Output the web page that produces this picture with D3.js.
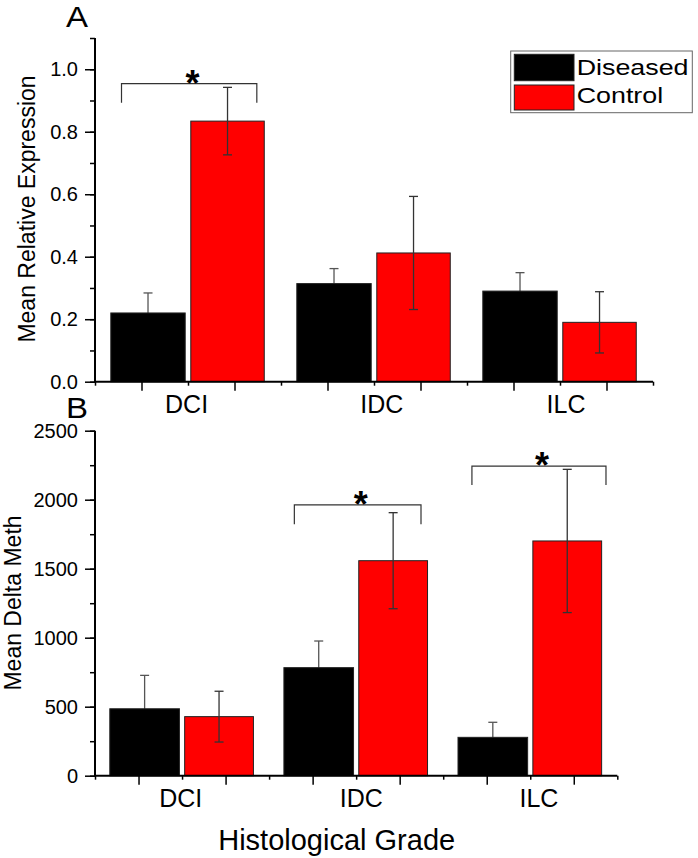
<!DOCTYPE html>
<html>
<head>
<meta charset="utf-8">
<script src="https://cdn.jsdelivr.net/npm/d3@7"></script>
<style>
  html, body { margin: 0; padding: 0; background: #fff; }
  text { font-family: "Liberation Sans", Arial, sans-serif; fill: #000; }
</style>
</head>
<body>
<div id="chart"></div>
<script>
// Datos del gráfico
const categories = ['DCI', 'IDC', 'ILC'];
const series = ['Diseased', 'Control'];
const colors = ['#000000', '#ff0000'];

// Panel A: expresión relativa media
const exprDiseased = [0.220, 0.314, 0.290];
const exprDiseasedErr = [0.064, 0.048, 0.059];
const exprControl = [0.834, 0.412, 0.190];
const exprControlErr = [0.108, 0.181, 0.098];
const exprTicks = [0.0, 0.2, 0.4, 0.6, 0.8, 1.0];

// Panel B: delta de metilación media
const methDiseased = [485, 783, 278];
const methDiseasedErr = [242, 193, 109];
const methControl = [428, 1558, 1701];
const methControlErr = [184, 348, 519];
const methTicks = [0, 500, 1000, 1500, 2000, 2500];

// Corchetes de significancia: [grupo, desde, hasta, altura, patas]
const exprBrackets = [[0, -1.43, 1.48, 0.954, 0.893]];
const methBrackets = [[1, -1.42, 1.49, 1962, 1822], [2, -1.34, 1.74, 2244, 2106]];

const W = 698, H = 858;
const svg = d3.select('#chart').append('svg')
    .attr('width', W)
    .attr('height', H);

// posiciones de grupo en unidades del eje x (0..12)
const groupPos = [2, 6, 10];

function drawErrors(g, data, x, y) {
    const err = g.selectAll(null)
        .data(data)
        .enter().append('g')
        .style('stroke', d => d.s === 0 ? '#555' : '#333')
        .style('stroke-width', 1.3);
    err.append('line')
        .attr('x1', d => x((d.x0 + d.x1) / 2))
        .attr('x2', d => x((d.x0 + d.x1) / 2))
        .attr('y1', d => y(d.v - d.e))
        .attr('y2', d => y(d.v + d.e));
    err.each(function(d) {
        const cx = x((d.x0 + d.x1) / 2);
        [d.v - d.e, d.v + d.e].forEach(v => {
            d3.select(this).append('line')
                .attr('x1', cx - 4.5).attr('x2', cx + 4.5)
                .attr('y1', y(v)).attr('y2', y(v));
        });
    });
}

function drawPanel(opts) {
    const x = d3.scaleLinear().domain([0, 12]).range([95, opts.xEnd]);
    const y = d3.scaleLinear().domain(opts.yDomain).range([opts.y0, opts.yTop]);
    const g = svg.append('g');

    // Barras
    const bars = [];
    categories.forEach((c, i) => {
        bars.push({ s: 0, c: i, v: opts.dis[i], e: opts.disErr[i], x0: groupPos[i] - 1.66, x1: groupPos[i] - 0.06 });
        bars.push({ s: 1, c: i, v: opts.con[i], e: opts.conErr[i], x0: groupPos[i] + 0.06, x1: groupPos[i] + 1.64 });
    });

    // errores de la serie negra quedan detrás de la barra
    drawErrors(g, bars.filter(d => d.s === 0), x, y);

    g.selectAll('.bar')
        .data(bars)
        .enter().append('rect')
        .attr('class', 'bar')
        .attr('x', d => x(d.x0))
        .attr('width', d => x(d.x1) - x(d.x0))
        .attr('y', d => y(d.v))
        .attr('height', d => y(0) - y(d.v))
        .style('fill', d => colors[d.s])
        .style('stroke', '#222')
        .style('stroke-width', 1);

    drawErrors(g, bars.filter(d => d.s === 1), x, y);

    // Ejes Y: mayores y menores
    const yMinor = d3.range(opts.yDomain[0], opts.yDomain[1] + opts.minorStep / 2, opts.minorStep);
    g.append('g')
        .attr('transform', 'translate(95,0)')
        .call(d3.axisLeft(y).tickValues(yMinor).tickSize(5).tickFormat(''))
        .call(a => a.select('.domain').remove())
        .selectAll('line').style('stroke-width', 1.5);
    const yAx = g.append('g')
        .attr('transform', 'translate(95,0)')
        .call(d3.axisLeft(y).tickValues(opts.ticks).tickSize(10).tickPadding(7).tickFormat(opts.fmt));
    yAx.select('.domain').remove();
    yAx.selectAll('line').style('stroke-width', 1.5);
    yAx.selectAll('text')
        .style('font-size', opts.tickFont + 'px')
        .style('font-family', '"Liberation Sans", Arial, sans-serif');
    g.append('line')
        .attr('x1', 95).attr('x2', 95)
        .attr('y1', y(opts.yDomain[1])).attr('y2', y(0) + 1)
        .style('stroke', '#000').style('stroke-width', 2);

    // Eje X
    const xAx = g.append('g').attr('transform', `translate(0,${y(0)})`);
    xAx.call(d3.axisBottom(x).tickValues(d3.range(1, 12, 2)).tickSize(9).tickFormat(''))
        .call(a => a.select('.domain').remove());
    xAx.append('g')
        .call(d3.axisBottom(x).tickValues(d3.range(0, 13, 2)).tickSize(4).tickFormat(''))
        .call(a => a.select('.domain').remove());
    xAx.selectAll('line').style('stroke-width', 1.5);
    xAx.append('line')
        .attr('x1', x(0) - 1).attr('x2', x(12))
        .style('stroke', '#000').style('stroke-width', 2);

    // Etiquetas de categoría
    g.selectAll('.cat')
        .data(categories)
        .enter().append('text')
        .attr('class', 'cat')
        .attr('x', (d, i) => x(groupPos[i] + opts.labelShift[i]))
        .attr('y', y(0) + 31)
        .attr('text-anchor', 'middle')
        .style('font-size', '25px')
        .text(d => d);

    // Corchetes de significancia
    opts.brackets.forEach(b => {
        const [gi, a0, a1, top, leg] = b;
        g.append('path')
            .attr('d', `M${x(groupPos[gi] + a0)},${y(leg)}V${y(top)}H${x(groupPos[gi] + a1)}V${y(leg)}`)
            .style('fill', 'none')
            .style('stroke', '#333')
            .style('stroke-width', 1.2);
        g.append('text')
            .attr('x', x(groupPos[gi] + (a0 + a1) / 2 + 0.07))
            .attr('y', y(top) + 12)
            .attr('text-anchor', 'middle')
            .style('font-size', '36px')
            .style('font-weight', 'bold')
            .text('*');
    });

    // Título del eje Y
    g.append('text')
        .attr('transform', `translate(${opts.titleX},${opts.titleY}) rotate(-90)`)
        .attr('text-anchor', 'middle')
        .style('font-size', '23px')
        .text(opts.title);

    // Letra del panel
    g.append('text')
        .attr('transform', `translate(77,${opts.letterY}) scale(1.1,1)`)
        .attr('text-anchor', 'middle')
        .style('font-size', '30px')
        .text(opts.letter);
}

drawPanel({
    xEnd: 653, y0: 381.7, yTop: 38, yDomain: [0, 1.1], minorStep: 0.1,
    ticks: exprTicks, fmt: d3.format('.1f'), tickFont: 20,
    dis: exprDiseased, disErr: exprDiseasedErr, con: exprControl, conErr: exprControlErr,
    brackets: exprBrackets, labelShift: [-0.03, 0.17, 0.13],
    title: 'Mean Relative Expression', titleX: 35, titleY: 209,
    letter: 'A', letterY: 27
});

drawPanel({
    xEnd: 617.3, y0: 775.7, yTop: 430.7, yDomain: [0, 2500], minorStep: 250,
    ticks: methTicks, fmt: d3.format('d'), tickFont: 20,
    dis: methDiseased, disErr: methDiseasedErr, con: methControl, conErr: methControlErr,
    brackets: methBrackets, labelShift: [-0.03, 0.12, 0.2],
    title: 'Mean Delta Meth', titleX: 21, titleY: 603,
    letter: 'B', letterY: 418
});

// Leyenda
const legend = svg.append('g').attr('transform', 'translate(510.7,51)');
legend.append('rect')
    .attr('width', 181.6).attr('height', 61.7)
    .style('fill', '#fff').style('stroke', '#666').style('stroke-width', 1);
series.forEach((s, i) => {
    legend.append('rect')
        .attr('x', 3.6).attr('y', 3.3 + i * 30.7)
        .attr('width', 59.7).attr('height', 26.4 - i * 1.4)
        .style('fill', colors[i]).style('stroke', '#222');
    legend.append('text')
        .attr('transform', `translate(66,${24 + i * 28}) scale(1.22,1)`)
        .style('font-size', '22px')
        .text(s);
});

// Título del eje X
svg.append('text')
    .attr('x', 336.7).attr('y', 850)
    .attr('text-anchor', 'middle')
    .style('font-size', '29px')
    .text('Histological Grade');
</script>
</body>
</html>
